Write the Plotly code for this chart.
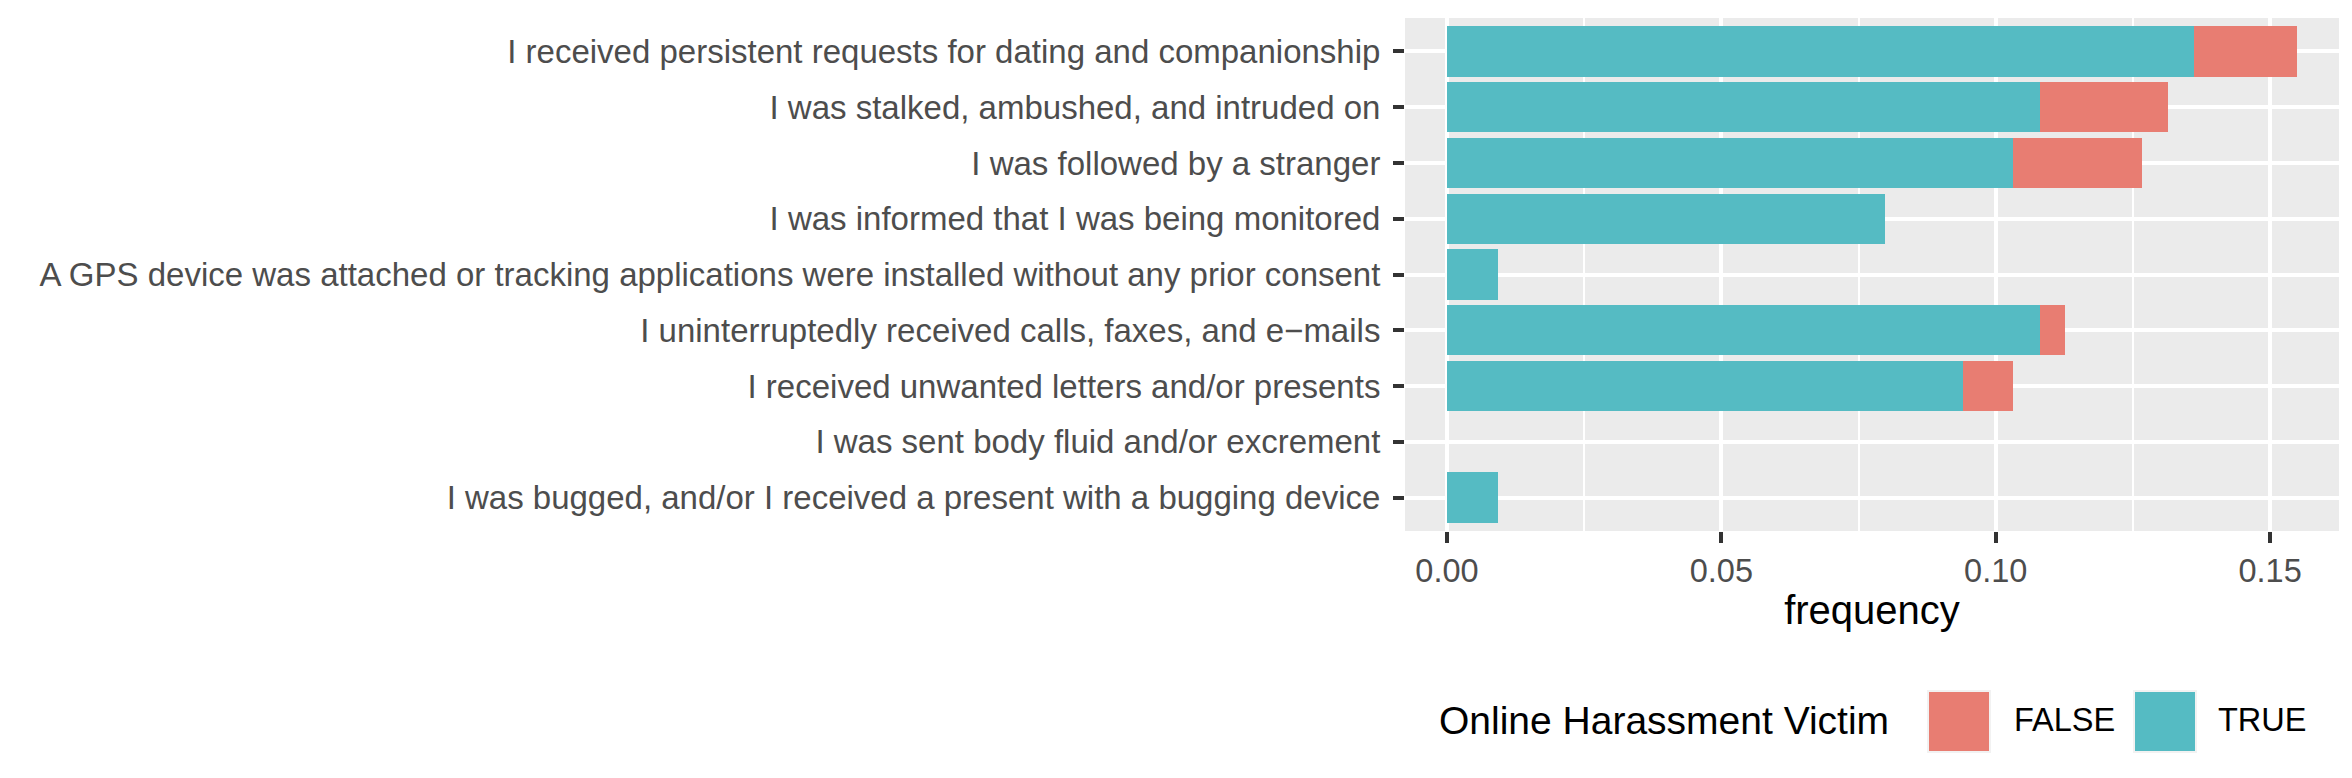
import plotly.graph_objects as go

# categories, top to bottom as in the chart
categories = [
    "I received persistent requests for dating and companionship",
    "I was stalked, ambushed, and intruded on",
    "I was followed by a stranger",
    "I was informed that I was being monitored",
    "A GPS device was attached or tracking applications were installed without any prior consent",
    "I uninterruptedly received calls, faxes, and e\u2212mails",
    "I received unwanted letters and/or presents",
    "I was sent body fluid and/or excrement",
    "I was bugged, and/or I received a present with a bugging device",
]
freq_true = [0.1362, 0.1080, 0.1032, 0.0798, 0.0093, 0.1080, 0.0940, 0.0, 0.0093]
freq_false = [0.0187, 0.0234, 0.0235, 0.0, 0.0, 0.0046, 0.0092, 0.0, 0.0]
x_ticks = [0.0, 0.05, 0.10, 0.15]

col_false = "#E87D72"
col_true = "#55BBC3"
font = "Liberation Sans, Arial, Helvetica, sans-serif"

W, H = 2352, 778
L, R, T, B = 1405, 2339, 18, 531  # panel in pixels


def px_x(p):
    return (p - L) / (R - L)


def px_y(p):
    return (B - p) / (B - T)


fig = go.Figure()
fig.add_trace(go.Bar(y=categories, x=freq_true, name="TRUE", orientation="h",
                     marker=dict(color=col_true, line=dict(width=0)), width=0.9))
fig.add_trace(go.Bar(y=categories, x=freq_false, name="FALSE", orientation="h",
                     marker=dict(color=col_false, line=dict(width=0)), width=0.9))

# hand drawn legend (ggplot style, bottom)
shapes = []
annotations = []
annotations.append(dict(text="Online Harassment Victim", x=px_x(1437), y=px_y(721),
                        xref="paper", yref="paper", xanchor="left", yanchor="middle",
                        showarrow=False, font=dict(size=39, color="black", family=font)))
for lab, col, kx, tx in [("FALSE", col_false, 1928, 2012), ("TRUE", col_true, 2134, 2216)]:
    shapes.append(dict(type="rect", xref="paper", yref="paper",
                       x0=px_x(kx), x1=px_x(kx + 62), y0=px_y(752), y1=px_y(691),
                       fillcolor=col, line=dict(color="#F2F2F2", width=2)))
    annotations.append(dict(text=lab, x=px_x(tx), y=px_y(720),
                            xref="paper", yref="paper", xanchor="left", yanchor="middle",
                            showarrow=False, font=dict(size=32.5, color="black", family=font)))

fig.update_layout(
    width=W, height=H,
    barmode="stack",
    showlegend=False,
    plot_bgcolor="#EBEBEB",
    paper_bgcolor="white",
    margin=dict(l=L, r=W - R, t=T, b=H - B, pad=0),
    font=dict(family=font),
    shapes=shapes,
    annotations=annotations,
)
fig.update_xaxes(
    range=[-0.00765, 0.16256],
    tickvals=x_ticks, tickformat=".2f",
    showgrid=True, gridcolor="white", gridwidth=4,
    minor=dict(dtick=0.025, tick0=0, showgrid=True, gridcolor="white", gridwidth=2, ticks=""),
    zeroline=False,
    ticks="outside", ticklen=11, tickwidth=4, tickcolor="#333333",
    tickfont=dict(size=32.5, color="#4D4D4D", family=font),
    title=dict(text="frequency", font=dict(size=40, color="black", family=font), standoff=7),
    automargin=False,
)
fig.update_yaxes(
    categoryorder="array", categoryarray=categories,
    range=[len(categories) - 0.4, -0.6],
    showgrid=True, gridcolor="white", gridwidth=4,
    zeroline=False,
    ticks="outside", ticklen=11, tickwidth=4, tickcolor="#333333",
    tickfont=dict(size=33, color="#4D4D4D", family=font),
    ticklabelstandoff=6,
    automargin=False,
)

# page body has a default 8px margin; remove it so the figure sits at the corner
fig.write_html("out.html", config={"displayModeBar": False},
               post_script="document.body.style.margin='0';")
